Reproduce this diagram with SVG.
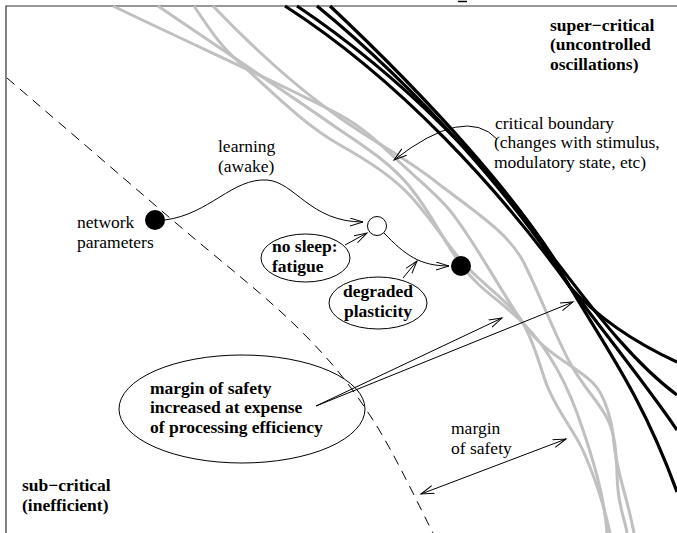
<svg xmlns="http://www.w3.org/2000/svg" width="677" height="533" viewBox="0 0 677 533">
<style>
.t{font-family:"Liberation Serif","Times New Roman",serif;font-size:17.5px;fill:#000}
.b{font-weight:bold}
.gray{fill:none;stroke:#c0c0c0;stroke-width:3}
.blk{fill:none;stroke:#000;stroke-width:3.2}
.thin{fill:none;stroke:#000;stroke-width:1}
.arr{marker-end:url(#ah)}
</style>
<defs>
<marker id="ah" markerUnits="userSpaceOnUse" markerWidth="16" markerHeight="10" refX="13" refY="4.5" orient="auto-start-reverse">
<path d="M0,0.5 L13,4.5 L0,8.5" fill="none" stroke="#000" stroke-width="1"/>
</marker>
</defs>
<rect width="677" height="533" fill="#fff"/>
<g id="frame">
<path d="M6,533 V6 H677" fill="none" stroke="#333" stroke-width="1.2"/>
<path d="M458,1.5 H467" stroke="#000" stroke-width="1.5"/>
</g>
<g id="gray-boundaries">
<path class="gray" d="M158,6 C 230,55 290,95 337,128 C 370,150 392,165 410,187 C 435,218 445,245 463,267 C 480,290 500,300 523,323 C 550,350 570,390 583,430 C 595,465 605,500 607,533"/>
<path class="gray" d="M113,6 C 200,48 290,88 340,115 C 362,127 378,142 394,157 C 415,177 432,190 447,207 C 470,233 500,290 523,323 C 545,355 575,365 593,383 C 605,395 612,420 614,443 C 616,470 628,500 634,533"/>
<path class="gray" d="M194,6 C 210,30 222,48 240,63 C 275,95 305,125 340,145 C 370,162 395,178 414,200 C 440,230 450,250 470,270 C 490,290 512,305 523,323 C 535,345 538,360 545,380 C 555,410 575,430 585,455 C 598,485 605,510 610,533"/>
<path class="gray" d="M213,6 C 260,55 300,90 340,118 C 380,146 410,160 440,185 C 480,215 510,235 524,263 C 540,295 555,335 570,363 C 585,390 598,400 608,420 C 618,440 616,470 618,490 C 620,510 625,520 627,533"/>
</g>
<g id="black-boundaries">
<path class="blk" d="M285,6 C 400,80 500,190 570,287 C 600,320 640,345 677,362"/>
<path class="blk" d="M297,6 C 400,75 500,175 555,260 C 590,305 630,360 677,395"/>
<path class="blk" d="M317,6 C 420,90 520,205 570,287 C 610,340 650,390 677,430"/>
<path class="blk" d="M330,6 C 430,100 520,200 560,270 C 600,340 640,390 677,492"/>
</g>
<g id="subcritical-boundary">
<path d="M7,78 C 34,101 121,176 170,218 C 219,260 266,296 300,330 C 334,364 351,386 373,420 C 395,454 423,514 433,533" fill="none" stroke="#000" stroke-width="1" stroke-dasharray="10,7"/>
</g>
<g id="connectors">
<path class="thin arr" d="M165,220 C 210,214 232,178 267,180 C 295,182 310,222 363,222"/>
<path class="thin arr" d="M384,233 C 405,255 420,266 449,266"/>
<path class="thin arr" d="M345,245 L367,233"/>
<path class="thin arr" d="M403,278 L417,261"/>
<path class="thin arr" d="M497,139 Q 465,105 394,160"/>
<path class="thin arr" d="M316,406 L502,318"/>
<path class="thin arr" d="M316,406 L573,302"/>
<path class="thin arr" d="M421,494 L566,439" style="marker-start:url(#ah)"/>
</g>
<g id="network-parameters">
<circle cx="155" cy="220" r="10" fill="#000"/>
<text class="t" x="77" y="228.3">network<tspan x="77" dy="19.5">parameters</tspan></text>
</g>
<g id="learning-label">
<text class="t" x="218" y="152.3">learning<tspan x="218" dy="19.5">(awake)</tspan></text>
</g>
<g id="open-state">
<circle cx="377" cy="226" r="9.5" fill="#fff" stroke="#000" stroke-width="1"/>
</g>
<g id="degraded-state">
<circle cx="461" cy="266" r="10" fill="#000"/>
</g>
<g id="no-sleep">
<ellipse cx="305.5" cy="258" rx="44.5" ry="24" fill="none" stroke="#000" stroke-width="1"/>
<text class="t b" x="272" y="252.3">no sleep:<tspan x="272" dy="19.5">fatigue</tspan></text>
</g>
<g id="degraded-plasticity">
<ellipse cx="378" cy="303" rx="49" ry="26" fill="none" stroke="#000" stroke-width="1"/>
<text class="t b" x="378" y="297.3" text-anchor="middle">degraded<tspan x="378" dy="19.5">plasticity</tspan></text>
</g>
<g id="margin-expense">
<ellipse cx="242" cy="409" rx="123" ry="54" fill="none" stroke="#000" stroke-width="1"/>
<text class="t b" x="150" y="393.5">margin of safety<tspan x="150" dy="19.5">increased at expense</tspan><tspan x="150" dy="19.5">of processing efficiency</tspan></text>
</g>
<g id="margin-label">
<text class="t" x="451" y="434.3">margin<tspan x="451" dy="19.5">of safety</tspan></text>
</g>
<g id="critical-label">
<text class="t" x="495" y="128.5">critical boundary<tspan x="494" dy="19.5">(changes with stimulus,</tspan><tspan x="494" dy="19.5">modulatory state, etc)</tspan></text>
</g>
<g id="super-critical">
<text class="t b" x="550" y="30.5">super−critical<tspan x="550" dy="19.5">(uncontrolled</tspan><tspan x="550" dy="19.5">oscillations)</tspan></text>
</g>
<g id="sub-critical">
<text class="t b" x="22" y="491.3">sub−critical<tspan x="22" dy="19.5">(inefficient)</tspan></text>
</g>
</svg>
